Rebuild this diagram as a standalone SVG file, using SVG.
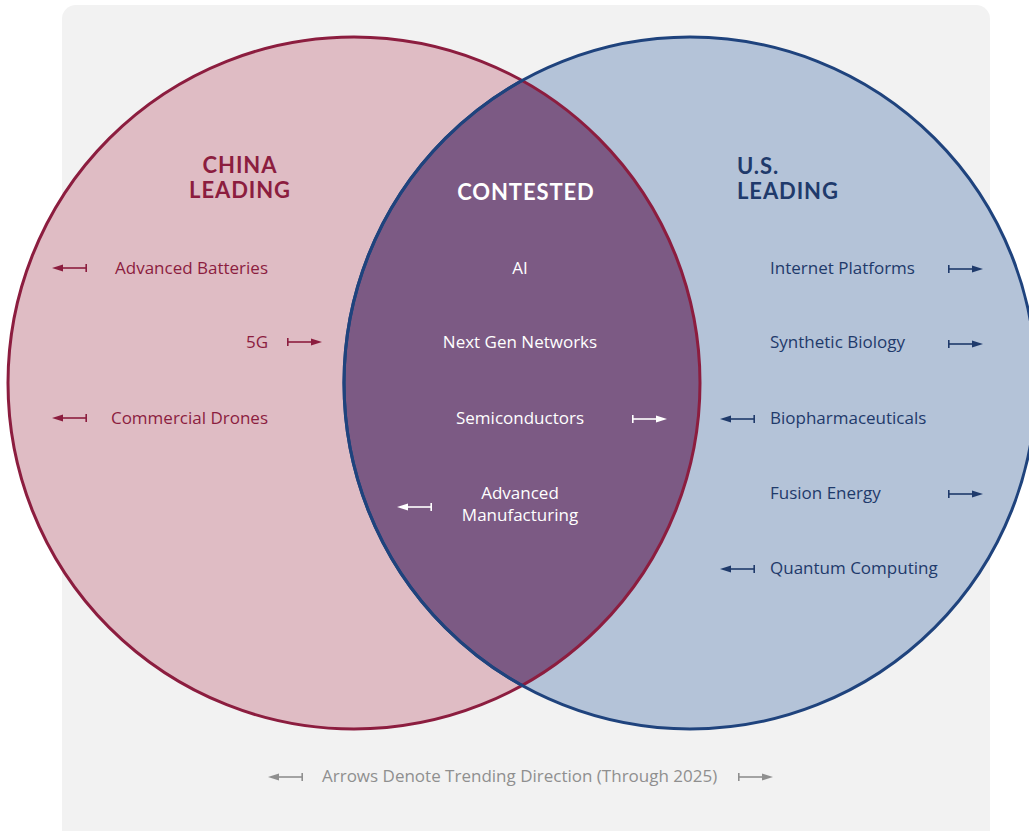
<svg xmlns="http://www.w3.org/2000/svg" xmlns:xlink="http://www.w3.org/1999/xlink" width="1029" height="831" viewBox="0 0 1029 831">
<style>
.t{font-family:"Open Sans","Liberation Sans",sans-serif;font-size:17px}
.h{font-family:Lato,"Liberation Sans",sans-serif;font-size:22px;font-weight:700;letter-spacing:0.9px}
.cn{fill:#8c1d3f}
.us{fill:#1f3a6b}
.ct{fill:#ffffff}
.ft{fill:#8f8f8f}
</style>
<defs>
<g id="arrR"><line x1="0" y1="0" x2="27" y2="0" stroke="currentColor" stroke-width="1.6"/><line x1="0.8" y1="-4" x2="0.8" y2="4" stroke="currentColor" stroke-width="1.6"/><polygon points="24,-3.5 35,0 24,3.5" fill="currentColor"/></g>
<g id="arrL"><line x1="8" y1="0" x2="35" y2="0" stroke="currentColor" stroke-width="1.6"/><line x1="34.2" y1="-4" x2="34.2" y2="4" stroke="currentColor" stroke-width="1.6"/><polygon points="11,-3.5 0,0 11,3.5" fill="currentColor"/></g>
<clipPath id="clipL"><circle cx="354" cy="383" r="346"/></clipPath>
</defs>
<rect width="1029" height="831" fill="#ffffff"/>
<rect x="62" y="5" width="928" height="840" rx="14" fill="#f2f2f2"/>
<g id="china-circle"><circle cx="354" cy="383" r="346" fill="#dfbcc4"/></g>
<g id="us-circle"><circle cx="690" cy="383" r="346" fill="#b4c3d8"/></g>
<g id="contested-area"><circle cx="690" cy="383" r="346" fill="#7c5a84" clip-path="url(#clipL)"/></g>
<circle cx="354" cy="383" r="346" fill="none" stroke="#8c1d3f" stroke-width="3"/>
<circle cx="690" cy="383" r="346" fill="none" stroke="#1f437d" stroke-width="3"/>
<circle cx="690" cy="383" r="346" fill="none" stroke="#1f437d" stroke-width="3" clip-path="url(#clipL)"/>

<g id="china">
<text class="h cn" x="240" y="173" text-anchor="middle">CHINA</text>
<text class="h cn" x="240" y="198" text-anchor="middle">LEADING</text>
<text class="t cn" x="268" y="274" text-anchor="end">Advanced Batteries</text>
<use href="#arrL" x="52" y="268" style="color:#8c1d3f"/>
<text class="t cn" x="268" y="348" text-anchor="end">5G</text>
<use href="#arrR" x="287" y="342" style="color:#8c1d3f"/>
<text class="t cn" x="268" y="424" text-anchor="end">Commercial Drones</text>
<use href="#arrL" x="52" y="418" style="color:#8c1d3f"/>
</g>

<g id="contested">
<text class="h ct" x="526" y="200" text-anchor="middle">CONTESTED</text>
<text class="t ct" x="520" y="274" text-anchor="middle">AI</text>
<text class="t ct" x="520" y="348" text-anchor="middle">Next Gen Networks</text>
<text class="t ct" x="520" y="424" text-anchor="middle">Semiconductors</text>
<use href="#arrR" x="632" y="419" style="color:#ffffff"/>
<text class="t ct" x="520" y="499" text-anchor="middle">Advanced</text>
<text class="t ct" x="520" y="521" text-anchor="middle">Manufacturing</text>
<use href="#arrL" x="397" y="507" style="color:#ffffff"/>
</g>

<g id="us">
<text class="h us" x="737" y="174">U.S.</text>
<text class="h us" x="737" y="199">LEADING</text>
<text class="t us" x="770" y="274">Internet Platforms</text>
<use href="#arrR" x="948" y="269" style="color:#1f3a6b"/>
<text class="t us" x="770" y="348">Synthetic Biology</text>
<use href="#arrR" x="948" y="344" style="color:#1f3a6b"/>
<text class="t us" x="770" y="424">Biopharmaceuticals</text>
<use href="#arrL" x="720" y="419" style="color:#1f3a6b"/>
<text class="t us" x="770" y="499">Fusion Energy</text>
<use href="#arrR" x="948" y="494" style="color:#1f3a6b"/>
<text class="t us" x="770" y="574">Quantum Computing</text>
<use href="#arrL" x="720" y="569" style="color:#1f3a6b"/>
</g>

<g id="legend">
<use href="#arrL" x="268" y="777" style="color:#8f8f8f"/>
<text class="t ft" x="322" y="782">Arrows Denote Trending Direction (Through 2025)</text>
<use href="#arrR" x="738" y="777" style="color:#8f8f8f"/>
</g>
</svg>
